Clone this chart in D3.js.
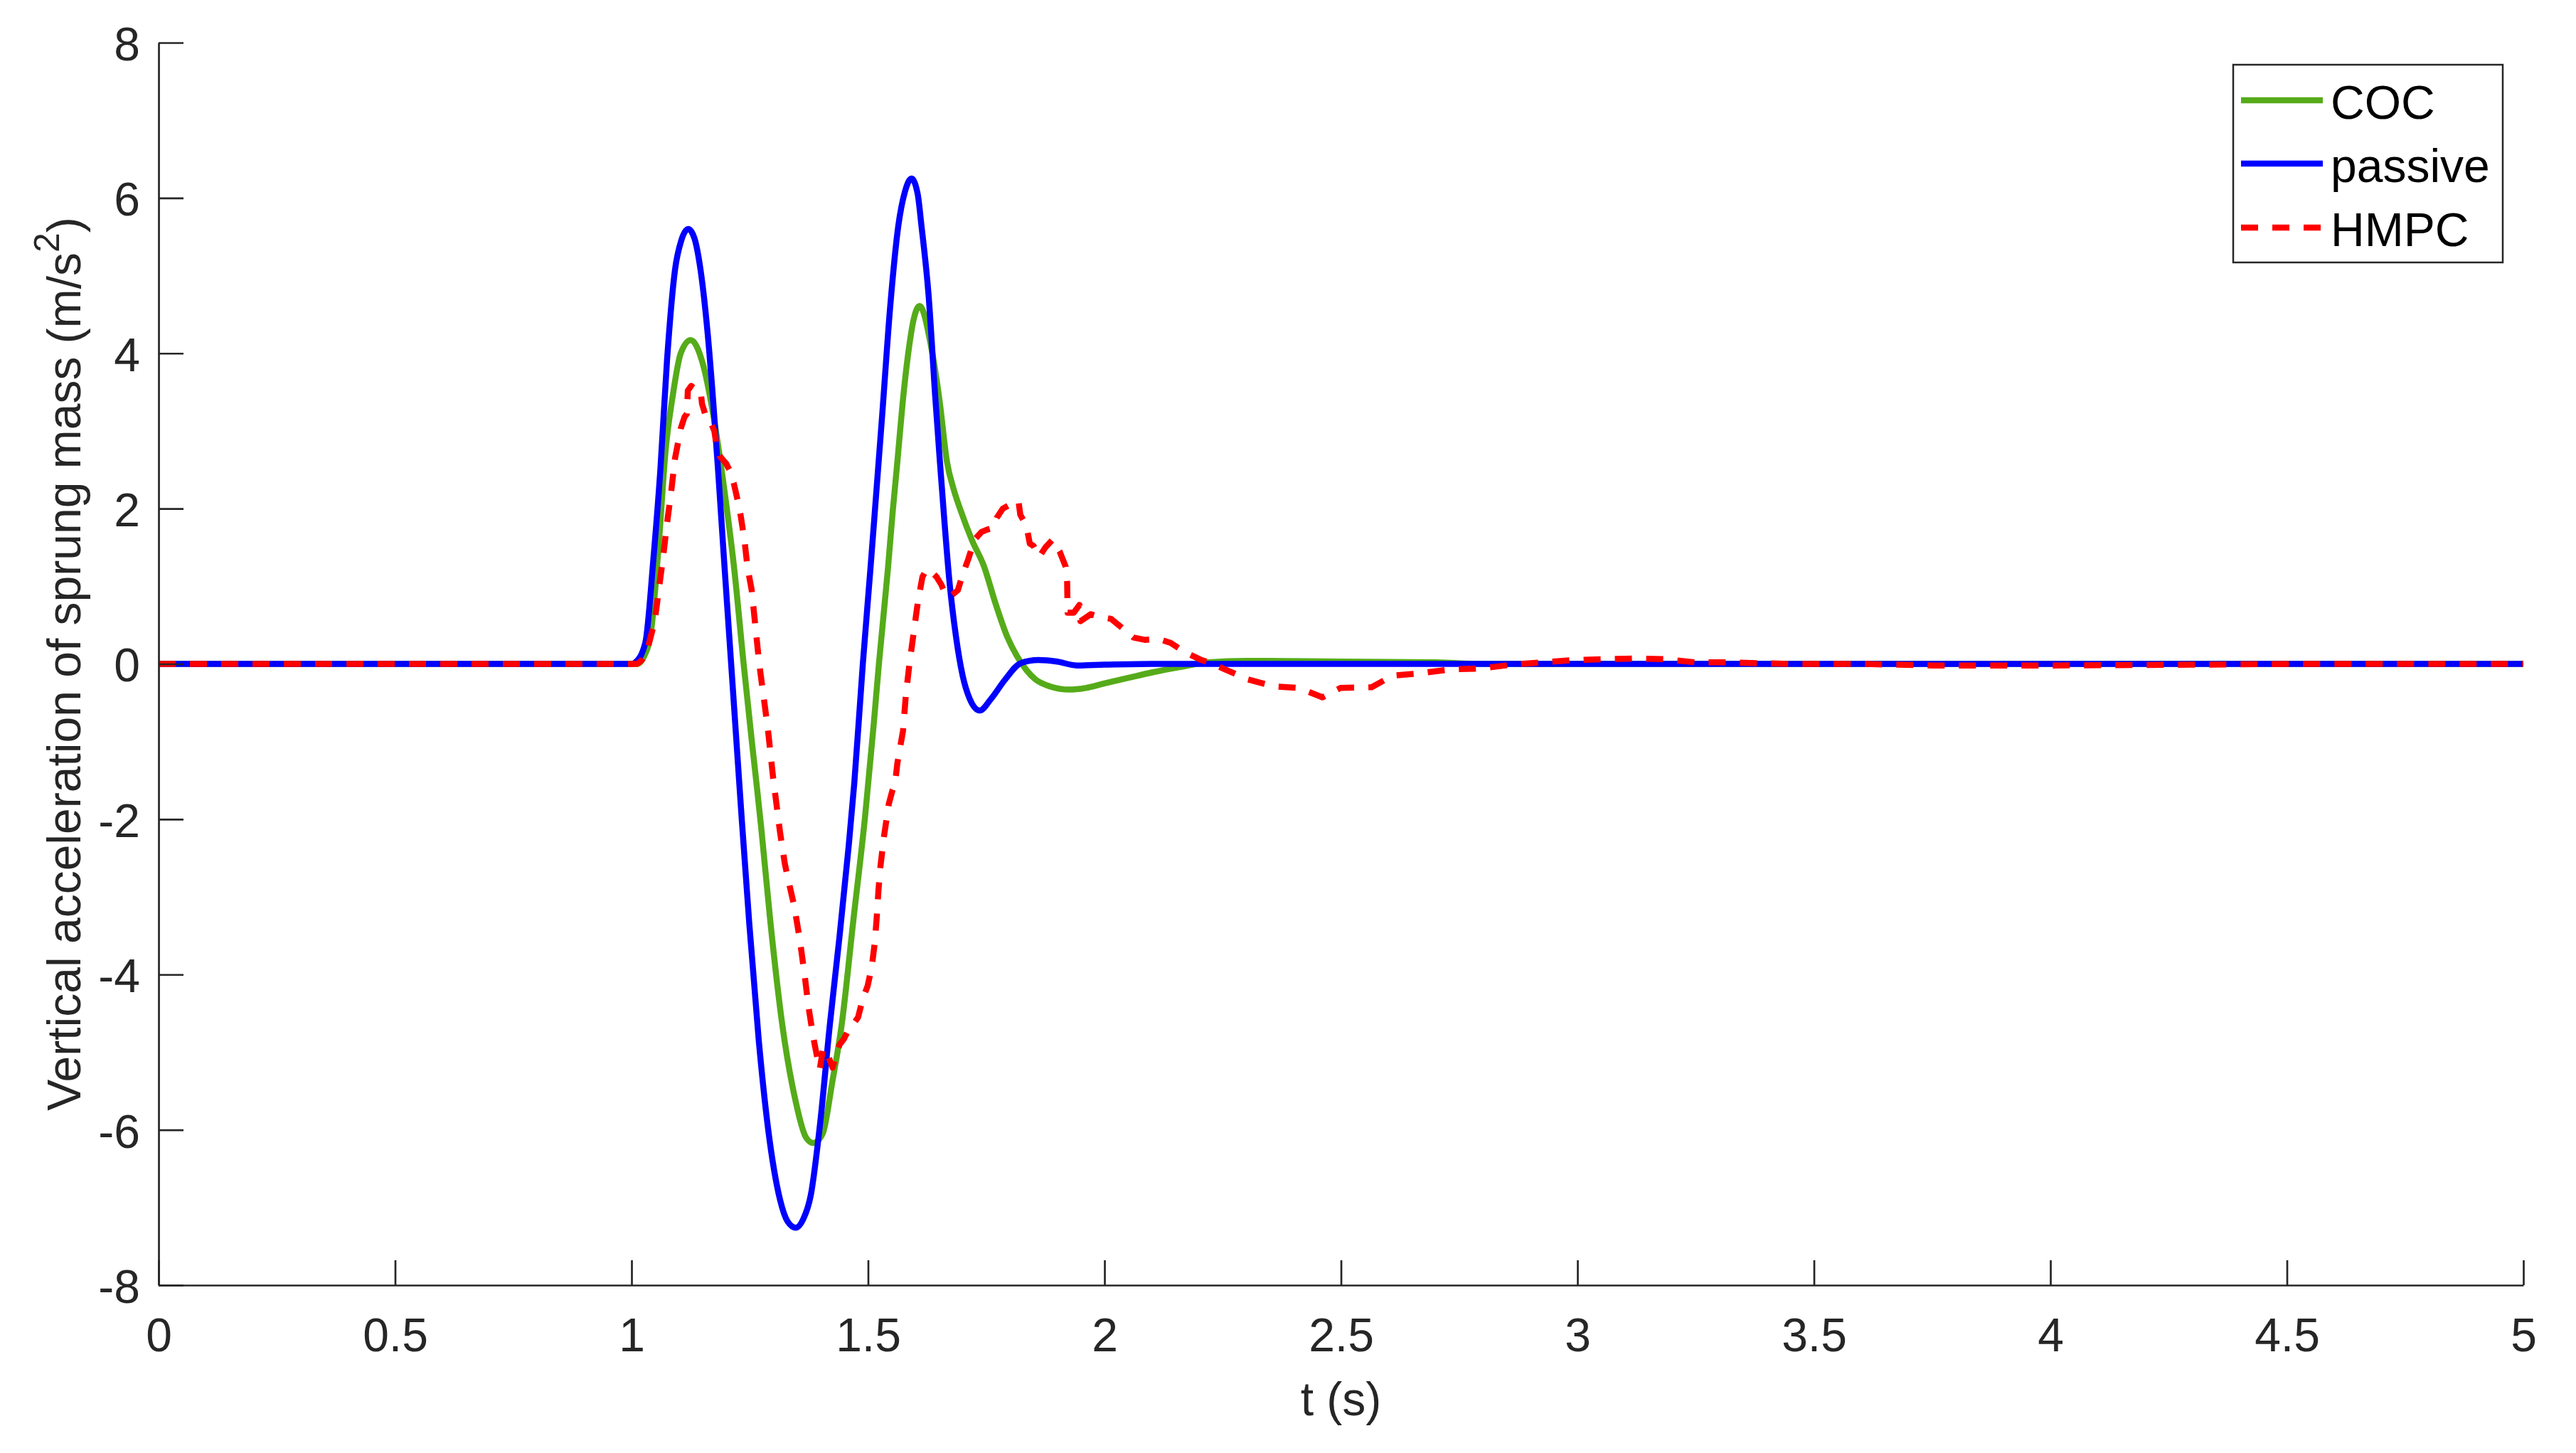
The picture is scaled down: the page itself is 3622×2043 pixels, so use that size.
<!DOCTYPE html>
<html>
<head>
<meta charset="utf-8">
<script src="https://cdn.jsdelivr.net/npm/d3@7"></script>
<style>
  body { margin: 0; background: #fff; }
  svg { display: block; }
</style>
</head>
<body>
<script>
// ---------------- data ----------------
const seriesNames = ["COC", "passive", "HMPC"];
const xTicks = [0, 0.5, 1, 1.5, 2, 2.5, 3, 3.5, 4, 4.5, 5];
const yTicks = [-8, -6, -4, -2, 0, 2, 4, 6, 8];

const tCOC = [0, 1.0, 1.012, 1.025, 1.041, 1.058, 1.072, 1.087, 1.104, 1.125,
  1.150, 1.173, 1.196, 1.2175, 1.237, 1.254, 1.264, 1.274, 1.294, 1.319,
  1.344, 1.369, 1.384, 1.404, 1.424, 1.444, 1.469, 1.494, 1.512, 1.523,
  1.542, 1.552, 1.562, 1.573, 1.585, 1.597, 1.609, 1.633, 1.651, 1.667,
  1.681, 1.695, 1.720, 1.745, 1.770, 1.795, 1.815, 1.835, 1.854, 1.885,
  1.925, 1.960, 2.0, 2.05, 2.1, 2.16, 2.22, 2.3, 2.5, 2.7,
  2.8, 5];
const vCOC = [0, 0, 0, 0.08, 0.41, 1.58, 2.75, 3.45, 4.0, 4.17,
  3.88, 3.2, 2.25, 1.2, 0, -0.98, -1.53, -2.1, -3.35, -4.66,
  -5.55, -6.10, -6.17, -6.05, -5.40, -4.66, -3.3, -1.95, -0.78, 0,
  1.22, 1.95, 2.6, 3.35, 4.0, 4.45, 4.61, 4.10, 3.4, 2.6,
  2.25, 1.99, 1.59, 1.26, 0.77, 0.34, 0.10, -0.08, -0.2, -0.29,
  -0.33, -0.31, -0.25, -0.18, -0.11, -0.04, 0.02, 0.04, 0.03, 0.02,
  0, 0];

const tPassive = [0, 1.0, 1.008, 1.029, 1.046, 1.061, 1.075, 1.092, 1.105, 1.120,
  1.133, 1.144, 1.161, 1.173, 1.184, 1.196, 1.2106, 1.218, 1.233, 1.249,
  1.269, 1.289, 1.314, 1.330, 1.347, 1.363, 1.379, 1.399, 1.419, 1.439,
  1.459, 1.471, 1.489, 1.505, 1.513, 1.530, 1.547, 1.564, 1.578, 1.592,
  1.605, 1.613, 1.628, 1.642, 1.652, 1.662, 1.672, 1.686, 1.700, 1.715,
  1.736, 1.760, 1.790, 1.823, 1.860, 1.900, 1.941, 2.0, 2.1, 5];
const vPassive = [0, 0, 0.02, 0.27, 1.34, 2.51, 3.91, 5.08, 5.45, 5.60,
  5.48, 5.15, 4.25, 3.35, 2.4, 1.3, 0, -0.66, -2.0, -3.35,
  -4.85, -6.0, -6.9, -7.18, -7.26, -7.15, -6.84, -5.9, -4.66, -3.55,
  -2.35, -1.53, 0, 1.22, 1.85, 3.21, 4.61, 5.64, 6.08, 6.25,
  6.05, 5.64, 4.75, 3.45, 2.6, 1.8, 1.07, 0.35, -0.15, -0.45,
  -0.60, -0.45, -0.2, 0.01, 0.05, 0.03, -0.02, -0.01, 0, 0];

const tHMPC = [0, 1.012, 1.022, 1.035, 1.049, 1.058, 1.067, 1.075, 1.084, 1.092,
  1.104, 1.112, 1.117, 1.119, 1.126, 1.136, 1.146, 1.149, 1.158, 1.168,
  1.175, 1.180, 1.186, 1.200, 1.207, 1.216, 1.225, 1.231, 1.239, 1.245,
  1.254, 1.270, 1.282, 1.289, 1.299, 1.314, 1.324, 1.331, 1.344, 1.356,
  1.366, 1.374, 1.384, 1.392, 1.398, 1.405, 1.414, 1.425, 1.432, 1.440,
  1.449, 1.458, 1.469, 1.479, 1.489, 1.499, 1.508, 1.514, 1.518, 1.522,
  1.526, 1.534, 1.544, 1.552, 1.557, 1.562, 1.574, 1.580, 1.587, 1.596,
  1.605, 1.615, 1.624, 1.635, 1.645, 1.655, 1.662, 1.672, 1.690, 1.700,
  1.712, 1.725, 1.740, 1.752, 1.765, 1.772, 1.785, 1.800, 1.818, 1.822,
  1.835, 1.842, 1.850, 1.862, 1.875, 1.890, 1.905, 1.918, 1.921, 1.922,
  1.935, 1.947, 1.949, 1.971, 1.995, 2.014, 2.040, 2.061, 2.085, 2.115,
  2.140, 2.170, 2.205, 2.230, 2.251, 2.303, 2.359, 2.411, 2.461, 2.499,
  2.565, 2.609, 2.668, 2.732, 2.795, 2.860, 2.927, 2.994, 3.058, 3.123,
  3.186, 3.250, 3.317, 3.380, 3.450, 3.600, 3.750, 4.000, 4.300, 4.500,
  5.0];
const vHMPC = [0, 0, 0.05, 0.22, 0.55, 0.97, 1.39, 1.81, 2.23, 2.65,
  3.03, 3.18, 3.22, 3.52, 3.58, 3.53, 3.52, 3.35, 3.17, 3.10,
  3.00, 2.80, 2.68, 2.58, 2.50, 2.33, 2.09, 1.90, 1.58, 1.25,
  0.95, 0.0, -0.55, -0.88, -1.45, -2.17, -2.57, -2.77, -3.12, -3.56,
  -4.01, -4.41, -4.80, -5.05, -5.22, -4.95, -5.02, -5.20, -5.05, -4.90,
  -4.83, -4.72, -4.64, -4.55, -4.31, -4.15, -3.90, -3.60, -3.30, -2.92,
  -2.62, -2.21, -1.80, -1.62, -1.55, -1.28, -0.86, -0.40, -0.03, 0.38,
  0.78, 1.12, 1.22, 1.18, 1.12, 1.02, 0.92, 0.86, 0.95, 1.15,
  1.35, 1.60, 1.70, 1.73, 1.75, 1.88, 2.00, 2.05, 2.10, 1.92,
  1.78, 1.55, 1.52, 1.38, 1.50, 1.60, 1.45, 1.25, 1.05, 0.66,
  0.66, 0.76, 0.55, 0.64, 0.60, 0.58, 0.45, 0.34, 0.31, 0.32,
  0.27, 0.15, 0.05, 0.0, -0.06, -0.20, -0.29, -0.31, -0.43, -0.31,
  -0.30, -0.15, -0.12, -0.07, -0.06, -0.01, 0.02, 0.05, 0.06, 0.07,
  0.06, 0.02, 0.02, 0.01, 0, 0, -0.02, -0.02, -0.01, 0,
  0];

const colors = ["#55AB19", "#0000FF", "#FF0000"];

// ---------------- layout ----------------
const W = 3622, H = 2043;
const FONT = '"Liberation Sans", Arial, Helvetica, sans-serif';
const AX = "#262626";
const svg = d3.select("body").append("svg").attr("width", W).attr("height", H);
svg.append("rect").attr("width", W).attr("height", H).attr("fill", "#fff");

const x = d3.scaleLinear().domain([0, 5]).range([223, 3548]);
const y = d3.scaleLinear().domain([-8, 8]).range([1807, 60]);

svg.append("defs").append("clipPath").attr("id", "plot")
  .append("rect").attr("x", 223).attr("y", 40).attr("width", 3548 - 223).attr("height", 1807 - 40);

const series = [
  { name: seriesNames[0], t: tCOC, v: vCOC, color: colors[0], dash: null, curve: d3.curveMonotoneX },
  { name: seriesNames[1], t: tPassive, v: vPassive, color: colors[1], dash: null, curve: d3.curveMonotoneX },
  { name: seriesNames[2], t: tHMPC, v: vHMPC, color: colors[2], dash: "24,20", curve: d3.curveLinear }
];

const lineG = svg.append("g").attr("clip-path", "url(#plot)");
series.forEach(s => {
  const pts = s.t.map((t, i) => [t, s.v[i]]);
  const line = d3.line().x(d => x(d[0])).y(d => y(d[1])).curve(s.curve);
  lineG.append("path").datum(pts)
    .attr("d", line)
    .attr("fill", "none")
    .attr("stroke", s.color)
    .attr("stroke-width", 8.5)
    .attr("stroke-linejoin", "round")
    .attr("stroke-dasharray", s.dash);
});

// ---------------- axes ----------------
const xAxis = d3.axisBottom(x).tickValues(xTicks).tickFormat(d => String(d))
  .tickSizeInner(-35).tickSizeOuter(0).tickPadding(0);
const gx = svg.append("g").attr("transform", `translate(0,${y(-8)})`).call(xAxis)
  .attr("font-family", FONT).attr("font-size", 66);
gx.select(".domain").attr("stroke", AX).attr("stroke-width", 2.7);
gx.selectAll(".tick line").attr("stroke", AX).attr("stroke-width", 2.7);
gx.selectAll(".tick text").attr("y", 93).attr("dy", null).attr("fill", AX);

const yAxis = d3.axisLeft(y).tickValues(yTicks).tickFormat(d => String(d))
  .tickSizeInner(-35).tickSizeOuter(0).tickPadding(26);
const gy = svg.append("g").attr("transform", `translate(${x(0)},0)`).call(yAxis)
  .attr("font-family", FONT).attr("font-size", 66);
gy.select(".domain").attr("stroke", AX).attr("stroke-width", 2.7);
gy.selectAll(".tick line").attr("stroke", AX).attr("stroke-width", 2.7);
gy.selectAll(".tick text").attr("x", -26).attr("dy", "0.37em").attr("fill", AX);

// axis labels
svg.append("text")
  .attr("x", (x(0) + x(5)) / 2).attr("y", 1990)
  .attr("text-anchor", "middle").attr("font-family", FONT).attr("font-size", 66).attr("fill", AX)
  .text("t (s)");

const yl = svg.append("text")
  .attr("transform", `translate(113,${(y(8) + y(-8)) / 2}) rotate(-90)`)
  .attr("text-anchor", "middle").attr("font-family", FONT).attr("font-size", 66).attr("fill", AX);
yl.append("tspan").text("Vertical acceleration of sprung mass (m/s");
yl.append("tspan").attr("font-size", 50).attr("dy", -30).text("2");
yl.append("tspan").attr("dy", 30).text(")");

// ---------------- legend ----------------
const lg = svg.append("g");
lg.append("rect").attr("x", 3140).attr("y", 91).attr("width", 379).attr("height", 278)
  .attr("fill", "#fff").attr("stroke", AX).attr("stroke-width", 2.5);
const rowY = [141, 230, 320];
series.forEach((s, i) => {
  lg.append("line").attr("x1", 3151).attr("x2", 3266).attr("y1", rowY[i]).attr("y2", rowY[i])
    .attr("stroke", s.color).attr("stroke-width", 8.5).attr("stroke-dasharray", s.dash);
  lg.append("text").attr("x", 3277).attr("y", rowY[i] + 26)
    .attr("font-family", FONT).attr("font-size", 66).attr("fill", "#000").text(s.name);
});
</script>
</body>
</html>
